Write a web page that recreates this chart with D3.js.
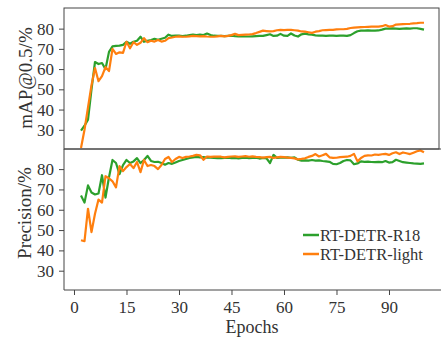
<!DOCTYPE html>
<html>
<head>
<meta charset="utf-8">
<script src="https://cdn.jsdelivr.net/npm/d3@7"></script>
<style>
  body { margin: 0; background: #fff; }
  text { font-family: "Liberation Serif", "Times New Roman", serif; fill: #333; }
</style>
</head>
<body>
<svg id="chart"></svg>
<script>
// epochs 2..100
let epochs = d3.range(2, 101);

let mapR18 = [29.6, 32, 35, 50, 63.5, 62.5, 63, 60, 68.5, 71.2, 71.5, 71.6, 72, 73.5, 72.5, 73.5, 74, 76, 73.5,
  74, 74.4, 75, 74.5, 75, 75.5, 77, 76.4, 76.5, 76.5, 76.3, 76.5, 76.8, 77, 76.8, 77, 76.8, 77.6, 76.8, 76.5,
  76.4, 76.4, 76.3, 76.4, 76.5, 76.3, 76.2, 76.2, 76.1, 76.1, 76.2, 76.3, 76.4, 76.4, 76.8, 77.2, 76.4, 76.5, 77.4,
  76.5, 76.4, 77.6, 76.6, 76.1, 77.2, 77.5, 77.2, 77.0, 76.7, 76.5, 76.5, 76.4, 76.5, 76.5, 76.4, 76.5, 76.5, 76.4,
  76.8, 77.8, 78.7, 79, 79, 79.1, 79, 79, 79.1, 79.5, 80, 80, 80.1, 80, 79.9, 80, 80.1, 80, 80.2, 80.2, 79.9, 79.5];

let mapLight = [21, 30, 41, 52, 60.5, 54, 56.5, 61, 59, 70, 67.5, 68.3, 68, 73.5, 70.3, 73.3, 72, 73, 75.3,
  73.3, 74, 73.6, 74.4, 73.6, 74, 75.3, 75.6, 76, 76.2, 76, 76, 76.2, 76.4, 76.3, 76.2, 76.3, 76.1, 76, 76,
  76.2, 76.4, 76.2, 76.4, 76.8, 77.4, 76.8, 76.9, 77, 77.1, 77.3, 77.8, 78.4, 79, 78.8, 78.6, 78.8, 79.2, 79.4,
  79.3, 79.4, 79.4, 79.2, 79, 78.6, 78.5, 78.2, 77.9, 78.5, 78.8, 79.2, 79.3, 79.4, 79.4, 79.6, 79.7, 79.7, 79.9,
  80.3, 80.5, 80.6, 80.7, 80.8, 80.9, 81.0, 81.0, 81.0, 81.2, 81.8, 81.0, 81.2, 82.0, 82.1, 82.2, 82.3, 82.4,
  82.6, 82.7, 82.9, 82.9];

let precR18 = [67, 63.5, 72, 68.5, 67.5, 68, 77, 66, 76, 84.5, 83, 77.5, 82, 84.5, 83, 83.8, 85.4, 83, 84.5,
  86.5, 84, 83.5, 83.6, 83, 82.2, 83, 82.6, 83.3, 84, 84.5, 85, 85.5, 85.8, 86, 85.8, 85.9, 85.7, 85.6, 85.5,
  85.4, 85.4, 85.5, 85.6, 85.4, 85.5, 85.3, 85.5, 85.6, 85.4, 85.5, 85.6, 85.2, 85.5, 85.3, 83, 87, 85.5, 85.6,
  85.7, 85.8, 85.6, 85.8, 84.6, 84.2, 84.3, 84.2, 84.5, 84.2, 84.3, 84, 83.8, 83.6, 82.6, 82.4, 83, 84, 84.5,
  84.3, 82.4, 82.8, 83.8, 83.6, 83.7, 83.5, 83.4, 83.6, 83.4, 84, 83.2, 83.4, 84.6, 84, 83.4, 83.2, 83, 82.8,
  82.7, 82.6, 82.8];

let precLight = [45, 44.5, 60.5, 49, 58, 65, 63.5, 76.5, 75.5, 74, 71, 81.5, 79, 81, 82.5, 80.5, 83.5, 78.5,
  84.5, 81.5, 82, 81.5, 80, 82, 85, 86, 83.5, 85, 86, 85.5, 86, 86.2, 86.5, 87, 86.8, 84.6, 86.2, 86, 86.1,
  86.2, 86.1, 85.8, 86, 86.2, 86.3, 86, 86.2, 86.4, 86.1, 86.3, 86, 85.9, 85.7, 85.9, 86, 85.5, 85.8, 86, 85.9,
  85.7, 85.5, 85.3, 84.8, 85, 85.3, 86, 86.5, 87.4, 86.2, 86.8, 87.5, 85.8, 85.5, 85.6, 85.9, 86, 86.1, 86.5,
  87.5, 83.8, 85.5, 86.5, 86.8, 86.7, 87.2, 87, 87.3, 87.5, 87, 87.8, 88.3, 87.4, 88.2, 87.8, 87.4, 88.1, 88.8,
  89.2, 88.3];

let seriesNames = ['RT-DETR-R18', 'RT-DETR-light'];
let colors = ['#2ca02c', '#ff7f0e'];
let xTicks = [0, 15, 30, 45, 60, 75, 90];
let yTicks = [30, 40, 50, 60, 70, 80];

var W = 441, H = 338;
var left = 64, right = 439, top1 = 8, mid = 149, bot = 290;

var svg = d3.select('#chart').attr('width', W).attr('height', H);

var x = d3.scaleLinear().domain([-2.857, 104.29]).range([left, right]);
var yTop = d3.scaleLinear().domain([20.5, 90.2]).range([mid, top1]);
var yBot = d3.scaleLinear().domain([20.5, 89.9]).range([bot, mid]);

function drawPanel(y, s1, s2, cls) {
  var clipId = 'clip-' + cls;
  svg.append('clipPath').attr('id', clipId)
    .append('rect')
    .attr('x', left).attr('y', y.range()[1])
    .attr('width', right - left).attr('height', y.range()[0] - y.range()[1]);

  var line = d3.line()
    .x((d, i) => x(epochs[i]))
    .y(d => y(d));

  var g = svg.append('g').attr('clip-path', 'url(#' + clipId + ')');
  [s1, s2].forEach((s, i) => {
    g.append('path')
      .datum(s)
      .attr('d', line)
      .attr('fill', 'none')
      .attr('stroke', colors[i])
      .attr('stroke-width', 2.2)
      .attr('stroke-linejoin', 'round');
  });

  var gy = svg.append('g')
    .attr('transform', 'translate(' + left + ',0)')
    .call(d3.axisLeft(y).tickValues(yTicks).tickSize(5).tickPadding(5));
  gy.select('.domain').remove();
  gy.selectAll('line').attr('stroke', '#444');
  gy.selectAll('text').style('font-size', '17px').attr('fill', '#333');
}

drawPanel(yTop, mapR18, mapLight, 'top');
drawPanel(yBot, precR18, precLight, 'bot');

// x axis
var gx = svg.append('g')
  .attr('transform', 'translate(0,' + bot + ')')
  .call(d3.axisBottom(x).tickValues(xTicks).tickSize(5).tickPadding(6));
gx.select('.domain').remove();
gx.selectAll('line').attr('stroke', '#444');
gx.selectAll('text').style('font-size', '17px').attr('fill', '#333');

// spines
var spine = '#444';
svg.append('rect')
  .attr('x', left).attr('y', top1)
  .attr('width', right - left).attr('height', mid - top1)
  .attr('fill', 'none').attr('stroke', spine).attr('stroke-width', 1);
svg.append('line').attr('x1', left).attr('x2', left).attr('y1', mid).attr('y2', bot)
  .attr('stroke', spine);
svg.append('line').attr('x1', left).attr('x2', W).attr('y1', bot).attr('y2', bot)
  .attr('stroke', spine);
svg.append('line').attr('x1', left).attr('x2', W).attr('y1', mid).attr('y2', mid)
  .attr('stroke', spine);

// labels
svg.append('text')
  .attr('transform', 'translate(32,78) rotate(-90)')
  .attr('text-anchor', 'middle')
  .style('font-size', '19px')
  .text('mAP@0.5/%');
svg.append('text')
  .attr('transform', 'translate(31,213) rotate(-90)')
  .attr('text-anchor', 'middle')
  .style('font-size', '19px')
  .text('Precision/%');
svg.append('text')
  .attr('x', 252).attr('y', 333)
  .attr('text-anchor', 'middle')
  .style('font-size', '18px')
  .text('Epochs');

// legend
var legend = svg.append('g');
seriesNames.forEach((name, i) => {
  var ly = 235 + i * 19;
  legend.append('line')
    .attr('x1', 303).attr('x2', 319).attr('y1', ly).attr('y2', ly)
    .attr('stroke', colors[i]).attr('stroke-width', 2.5);
  legend.append('text')
    .attr('x', 320).attr('y', ly + 6)
    .style('font-size', '16.5px')
    .text(name);
});
</script>
</body>
</html>
